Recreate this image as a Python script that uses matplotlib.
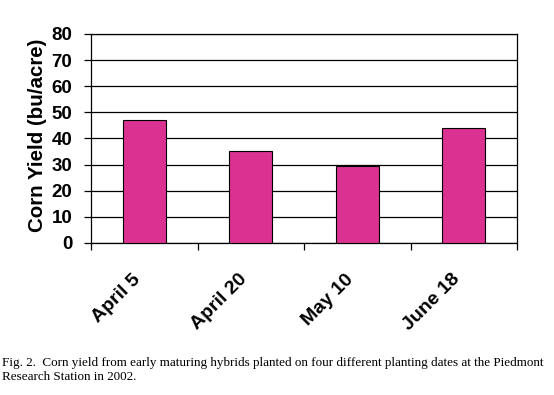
import matplotlib
matplotlib.use("Agg")
import matplotlib.pyplot as plt
import matplotlib.transforms as mtransforms
import numpy as np

categories = ["April 5", "April 20", "May 10", "June 18"]
yields = [46.9, 35.4, 29.4, 44.2]
y_ticks = [0, 10, 20, 30, 40, 50, 60, 70, 80]
y_label = "Corn Yield (bu/acre)"
caption = ("Fig. 2.  Corn yield from early maturing hybrids planted on four different planting dates at the Piedmont\n"
           "Research Station in 2002.")

bar_color = "#DB3291"

fig = plt.figure(figsize=(5.54, 3.95), dpi=100)
W, H = 554, 395
left, right, top, bottom = 91, 517, 34, 243
ax = fig.add_axes([left / W, 1 - bottom / H, (right - left) / W, (bottom - top) / H])

x = np.arange(len(categories))
ax.bar(x, yields, width=0.4, color=bar_color, edgecolor="black", linewidth=0.8, zorder=3)

ax.set_xlim(-0.5, len(categories) - 0.5)
ax.set_ylim(0, 80)
ax.set_yticks(y_ticks)
ax.yaxis.grid(True, color="black", linewidth=0.9, zorder=0)
ax.set_axisbelow(True)

# major x ticks at category boundaries (no labels), minor ticks at centres with labels
ax.set_xticks(np.arange(-0.5, len(categories), 1.0))
ax.set_xticklabels([])
ax.set_xticks(x, minor=True)
ax.set_xticklabels(categories, minor=True, rotation=45, ha="right", va="top",
                   fontsize=14, fontweight="bold", family="Liberation Sans")
shift = mtransforms.ScaledTranslation(-6 / 100, 0, fig.dpi_scale_trans)
for lab in ax.get_xticklabels(minor=True):
    lab.set_transform(lab.get_transform() + shift)
ax.tick_params(axis="x", which="major", direction="out", length=5, width=0.9, color="black")
ax.tick_params(axis="x", which="minor", length=0, pad=20)
ax.tick_params(axis="y", direction="out", length=5, width=0.9, pad=8.5)
for lab in ax.get_yticklabels():
    lab.set_fontsize(13.5)
    lab.set_fontweight("bold")
    lab.set_family("Liberation Sans")

for s in ["left", "right", "top", "bottom"]:
    ax.spines[s].set_visible(True)
    ax.spines[s].set_color("black")
    ax.spines[s].set_linewidth(0.9)

ax.set_ylabel(y_label, fontsize=14.8, fontweight="bold", family="Liberation Sans", va="center")
ax.yaxis.set_label_coords((38 - left) / (right - left), 0.515)

fig.text(2 / W, 1 - 357 / H, caption, ha="left", va="top", fontsize=9.45,
         family="Liberation Serif", linespacing=1.22)

fig.savefig("out.png", dpi=100, facecolor="white")
